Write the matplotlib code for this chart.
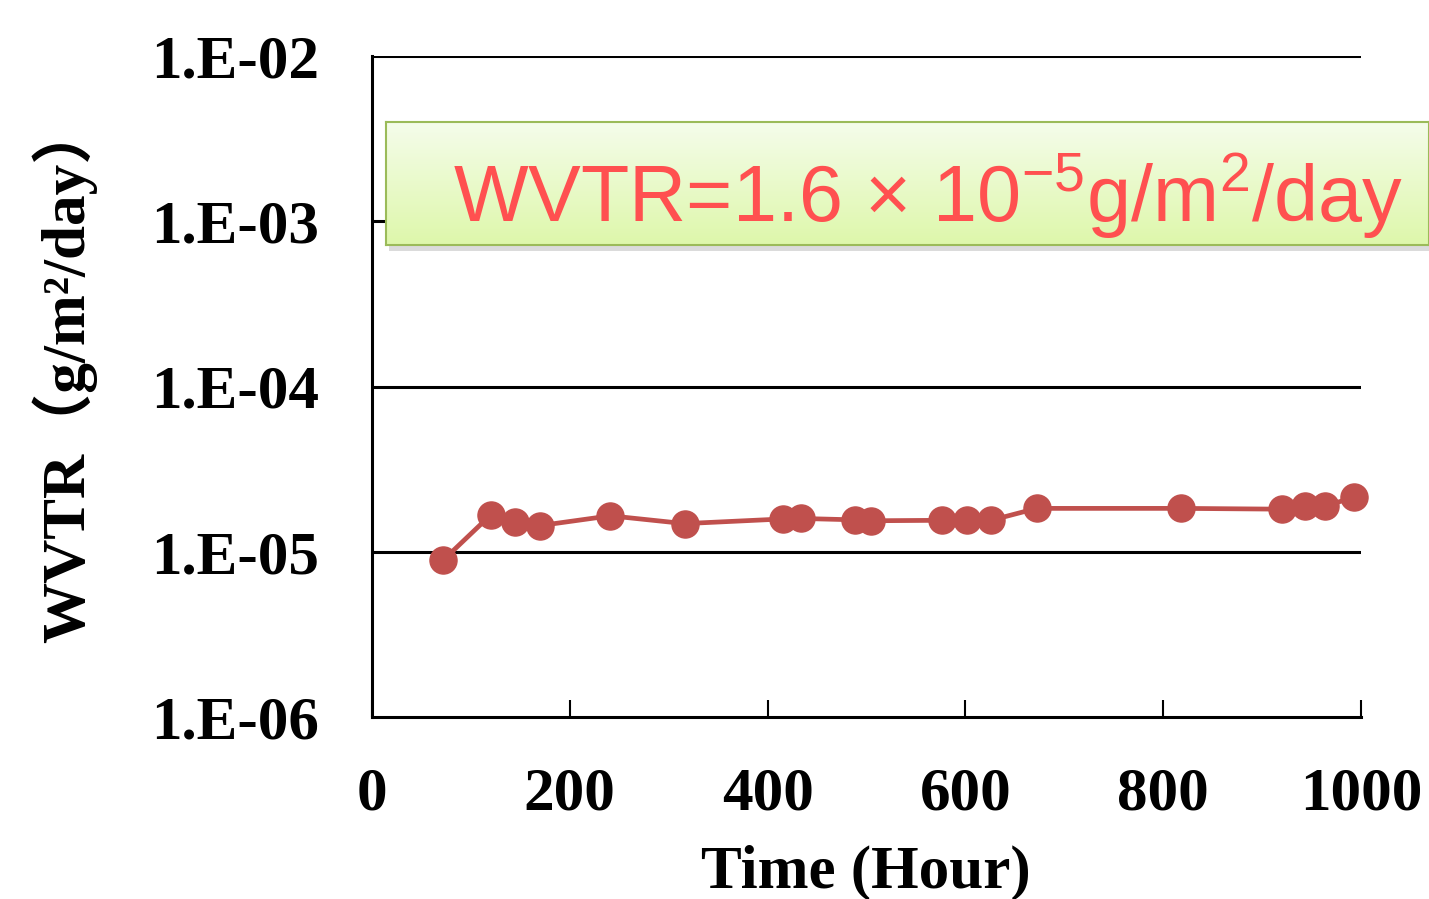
import numpy as np
import matplotlib
matplotlib.use("Agg")
import matplotlib.pyplot as plt
from matplotlib.patches import Rectangle

# ---- data ----
hours = [72, 120, 145, 170, 241, 316, 416, 434, 488, 505, 576, 602, 626, 672, 818, 920, 943, 964, 993]
wvtr = [8.9e-6, 1.67e-5, 1.51e-5, 1.44e-5, 1.65e-5, 1.48e-5, 1.58e-5, 1.59e-5, 1.56e-5, 1.54e-5,
        1.55e-5, 1.55e-5, 1.55e-5, 1.83e-5, 1.83e-5, 1.81e-5, 1.88e-5, 1.88e-5, 2.15e-5]
xticks = [0, 200, 400, 600, 800, 1000]
yticks = [1e-6, 1e-5, 1e-4, 1e-3, 1e-2]
ytick_labels = ["1.E-06", "1.E-05", "1.E-04", "1.E-03", "1.E-02"]

W, H = 1429, 899
fig = plt.figure(figsize=(W / 100, H / 100), dpi=100)
serif = "Liberation Serif"

ax = fig.add_axes([372 / W, 1 - 717 / H, (1361 - 372) / W, (717 - 56) / H])
ax.set_yscale("log")
ax.set_xlim(0, 1000)
ax.set_ylim(1e-6, 1e-2)
for y in yticks[1:]:
    ax.axhline(y, color="black", lw=2.2, zorder=1)
ax.plot(hours, wvtr, color="#c0504d", lw=3.4, marker="o", ms=19.5, zorder=3, clip_on=False)

for s in ["top", "right"]:
    ax.spines[s].set_visible(False)
for s in ["left", "bottom"]:
    ax.spines[s].set_linewidth(2.2)
ax.set_xticks(xticks)
ax.set_xticklabels([str(v) for v in xticks], fontfamily=serif, fontweight="bold", fontsize=44)
ax.set_yticks(yticks)
ax.set_yticklabels(ytick_labels, fontfamily=serif, fontweight="bold", fontsize=44)
ax.yaxis.set_minor_locator(matplotlib.ticker.NullLocator())
ax.tick_params(axis="x", direction="in", length=12, width=1.5, pad=36)
ax.tick_params(axis="y", direction="in", length=0, pad=38)

fig.text(866 / W, 1 - 888 / H, "Time (Hour)", ha="center", va="baseline",
         fontfamily=serif, fontweight="bold", fontsize=44)
fig.text(64 / W, 1 - 372 / H, "WVTR（g/m²/day）", ha="center", va="center", rotation=90,
         fontfamily=[serif, "Noto Sans CJK JP"], fontweight="bold", fontsize=44)

# ---- annotation box with gradient ----
bx0, by0, bx1, by1 = 386, 122, 1429, 245
shadow = Rectangle(((bx0 + 3) / W, 1 - (by1 + 6) / H), (bx1 - bx0) / W, (by1 - by0) / H,
                   transform=fig.transFigure, facecolor="#b8b8b8", edgecolor="none",
                   alpha=0.5, zorder=4)
fig.patches.append(shadow)
bax = fig.add_axes([bx0 / W, 1 - by1 / H, (bx1 - bx0) / W, (by1 - by0) / H], zorder=5)
top_c = np.array([0.96, 0.99, 0.92])
bot_c = np.array([0.87, 0.97, 0.67])
t = np.linspace(0, 1, 100)[:, None]
grad = (top_c * (1 - t) + bot_c * t)[:, None, :].repeat(2, axis=1)
bax.imshow(grad, aspect="auto", extent=[0, 1, 0, 1], origin="upper")
bax.set_xlim(0, 1)
bax.set_ylim(0, 1)
bax.set_xticks([])
bax.set_yticks([])
for s in bax.spines.values():
    s.set_color("#9bbb59")
    s.set_linewidth(1.5)
bax.text(928 / W, 1 - 222 / H,
         r"WVTR=1.6 $\mathregular{\times}$ 10$^{\mathregular{-5}}$g/m$^{\mathregular{2}}$/day",
         transform=fig.transFigure, ha="center", va="baseline", color="#ff5050",
         fontfamily="Liberation Sans", fontsize=57, zorder=6)

fig.savefig("out.png", dpi=100)
